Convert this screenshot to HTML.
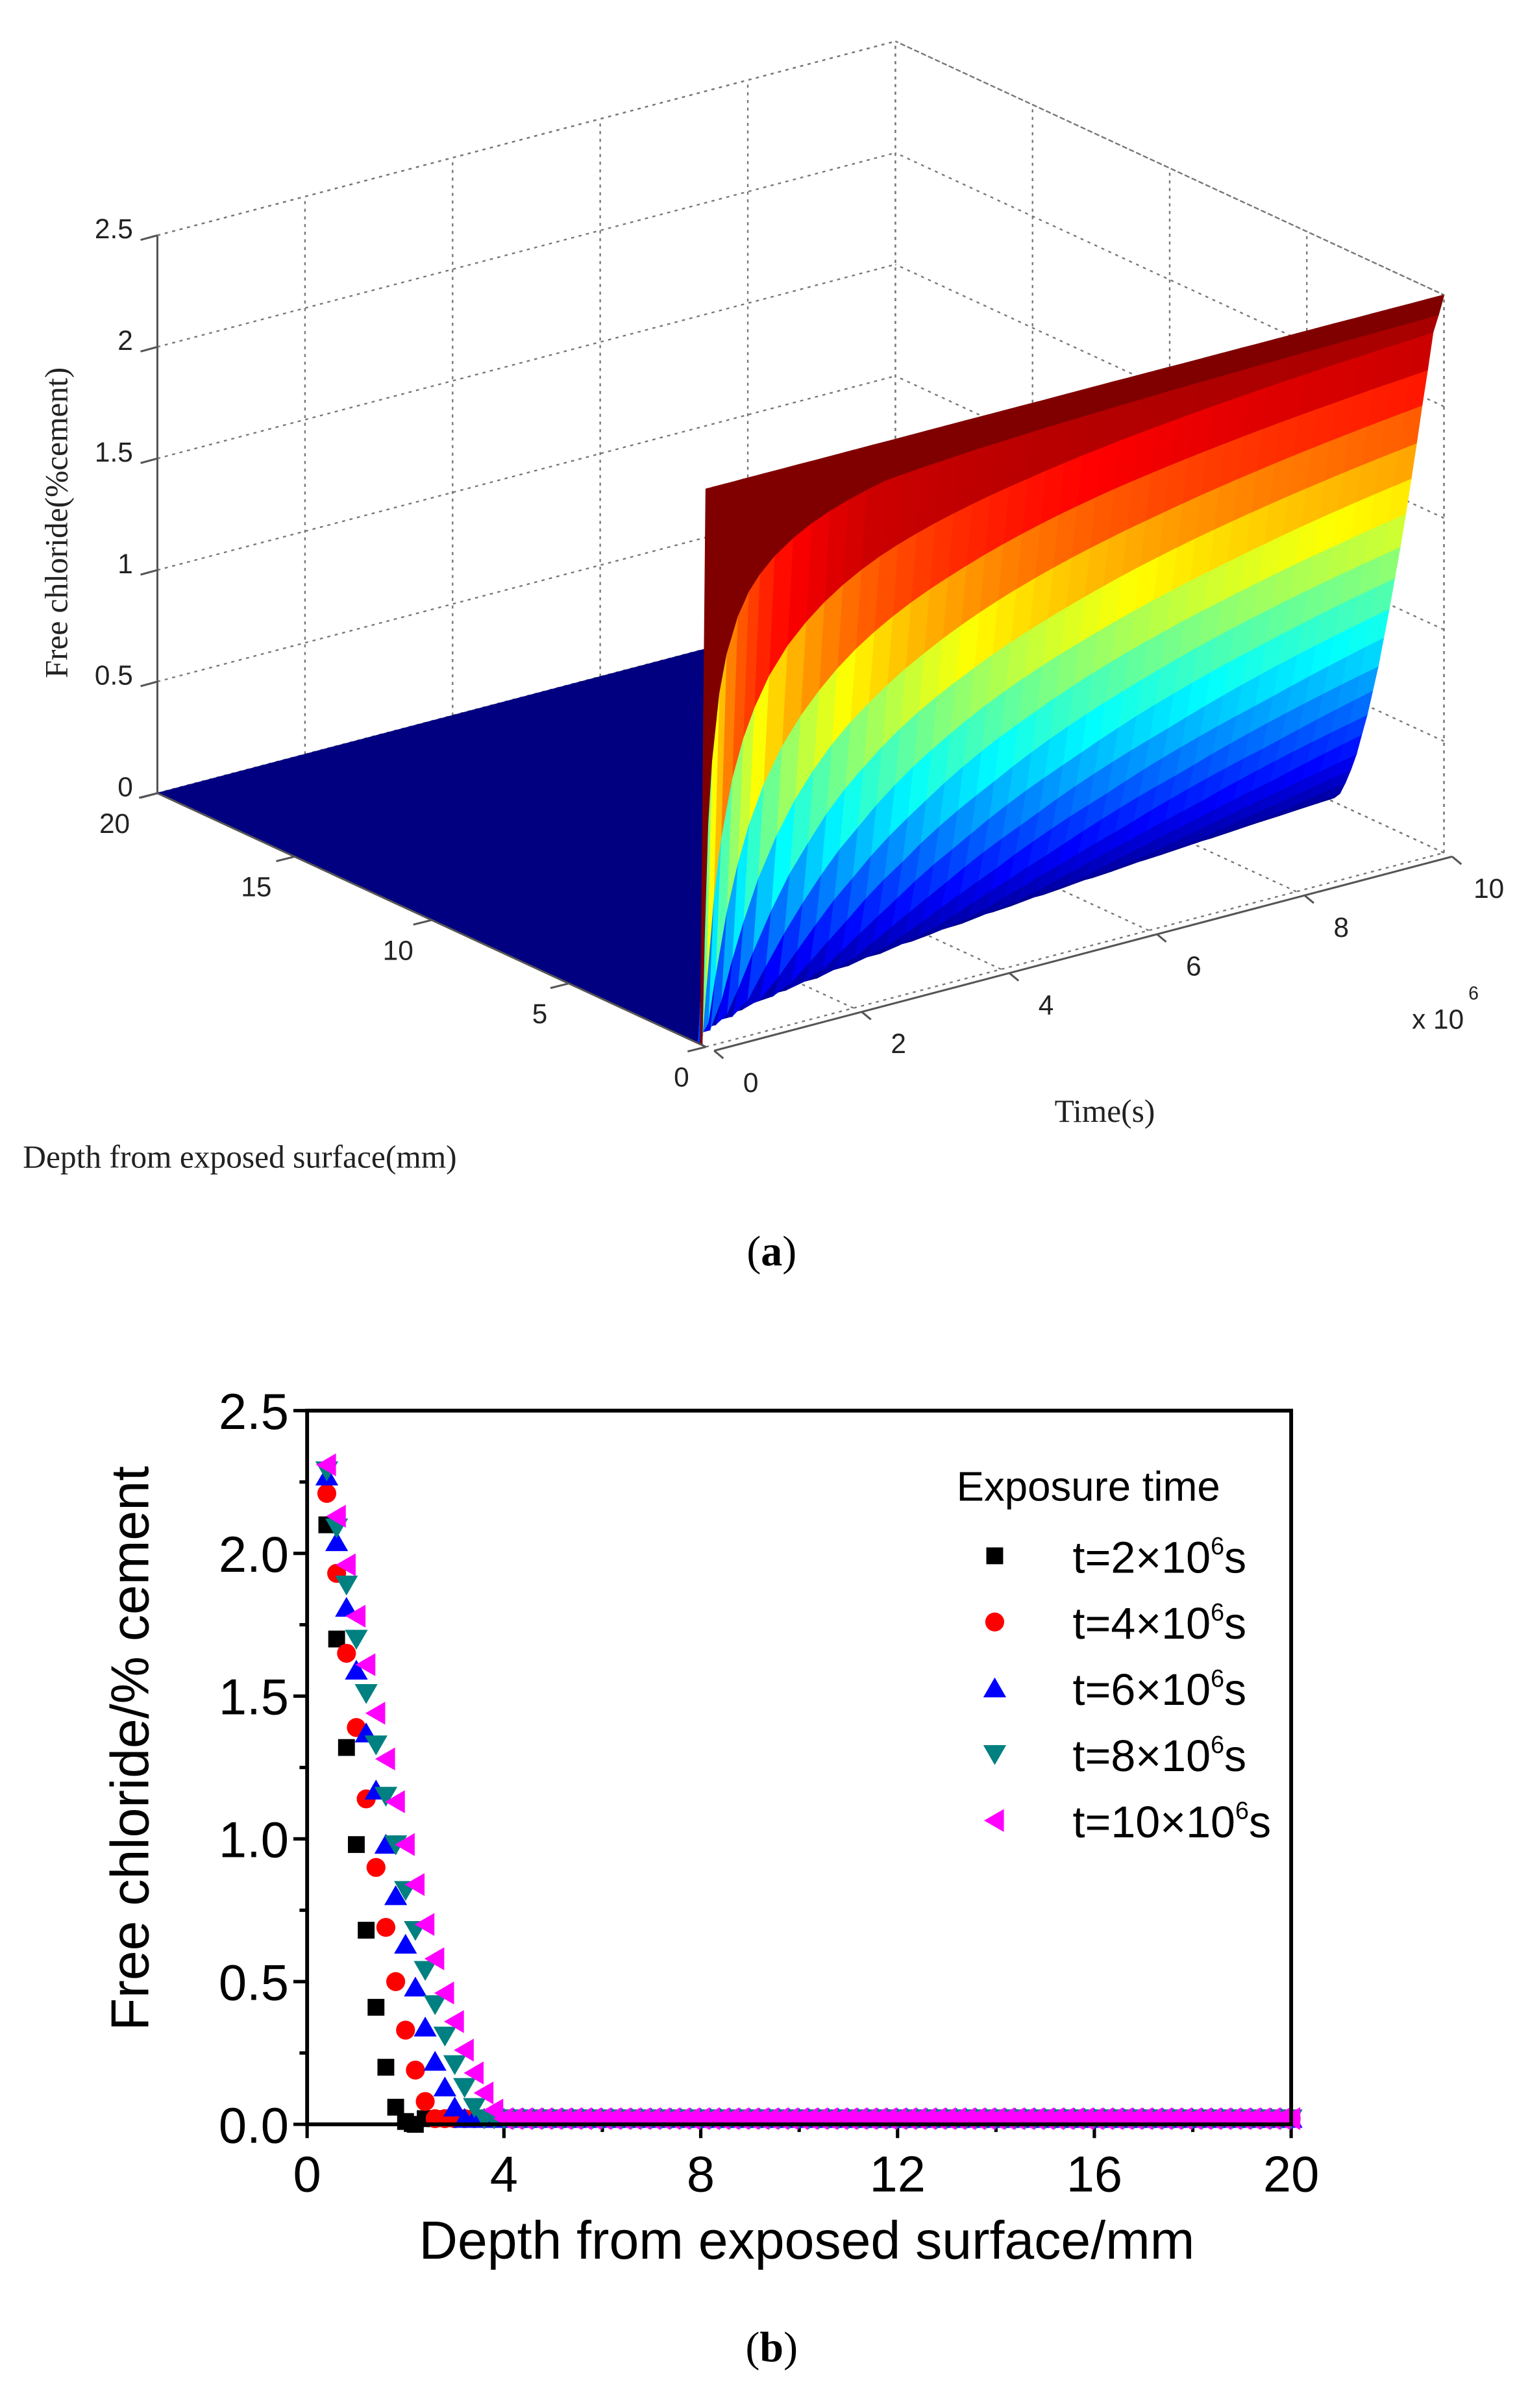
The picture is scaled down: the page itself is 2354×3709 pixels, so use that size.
<!DOCTYPE html>
<html><head><meta charset="utf-8"><style>
html,body{margin:0;padding:0;background:#fff;}
svg{display:block;}
</style></head><body>
<svg id="fig" xmlns="http://www.w3.org/2000/svg" width="2354" height="3709" viewBox="0 0 1000 1575.6" preserveAspectRatio="none">
<rect x="0" y="0" width="1000" height="1576" fill="#fff"/>
<g id="pa"></g>
<g id="pb"></g>
<text x="505" y="828" text-anchor="middle" font-family="Liberation Serif, serif" font-size="28">(<tspan font-weight="bold">a</tspan>)</text>
<text x="505" y="1545" text-anchor="middle" font-family="Liberation Serif, serif" font-size="28">(<tspan font-weight="bold">b</tspan>)</text>
</svg>
<script>
// ---------- Panel A data ----------
const profileDepth = [0,0.2,0.4,0.6,0.8,1.0,1.2,1.4,1.6,1.8,2.0,2.2,2.4,2.6,2.8,3.0,3.2,3.4,3.6,3.8,4.0,4.2];
const profileValue = [2.5,2.40,2.31,2.13,1.96,1.78,1.61,1.44,1.28,1.13,0.98,0.84,0.70,0.58,0.46,0.36,0.26,0.18,0.11,0.05,0.02,0];
const surfTimes = [0,0.02,0.05,0.1,0.15,0.25,0.35,0.5,0.65,0.8,1,1.25,1.5,1.75,2,2.25,2.5,2.75,3,3.25,3.5,3.75,4,4.25,4.5,4.75,5,5.25,5.5,5.75,6,6.25,6.5,6.75,7,7.25,7.5,7.75,8,8.25,8.5,8.75,9,9.25,9.5,9.75,10];
const zTicks = [0,0.5,1,1.5,2,2.5];
const zTickLabels = ["0","0.5","1","1.5","2","2.5"];
const depthTicks = [0,5,10,15,20];
const timeTicks = [0,2,4,6,8,10];

// ---------- Panel B data ----------
const seriesNames = ["t=2","t=4","t=6","t=8","t=10"];
const leadDepth = [0.4,0.6,0.8,1.0,1.2,1.4,1.6,1.8,2.0,2.2,2.4,2.6,2.8,3.0,3.2,3.4,3.6,3.8,4.0];
const s2  = [2.10,1.70,1.32,0.98,0.68,0.41,0.20,0.06,0.01,0.0];
const s4  = [2.21,1.93,1.65,1.39,1.14,0.90,0.69,0.50,0.33,0.19,0.08,0.02];
const s6  = [2.27,2.04,1.81,1.59,1.37,1.17,0.98,0.80,0.63,0.48,0.34,0.22,0.13,0.06,0.02];
const s8  = [2.29,2.09,1.89,1.70,1.51,1.33,1.15,0.98,0.82,0.68,0.54,0.42,0.31,0.21,0.13,0.06,0.02];
const s10 = [2.31,2.13,1.96,1.78,1.61,1.44,1.28,1.13,0.98,0.84,0.70,0.58,0.46,0.36,0.26,0.18,0.11,0.05,0.02];
const tailValue = 0.02;
const xTicksB = [0,4,8,12,16,20];
const yTicksB = [0,0.5,1.0,1.5,2.0,2.5];
const yTickLabelsB = ["0.0","0.5","1.0","1.5","2.0","2.5"];

const NS = "http://www.w3.org/2000/svg";
function mk(tag, attrs, parent){const e=document.createElementNS(NS,tag);for(const k in attrs)e.setAttribute(k,attrs[k]);parent.appendChild(e);return e;}

// ===== Panel A =====
const pa = document.getElementById('pa');
function P(d,t,z){return [462-17.95*d+48.3*t, 685-8.3*d-12.7*t-146*z];}
function jet(v){v=Math.max(0,Math.min(1,v));const c=x=>Math.round(255*Math.max(0,Math.min(1,x)));
  return `rgb(${c(1.5-Math.abs(4*v-3))},${c(1.5-Math.abs(4*v-2))},${c(1.5-Math.abs(4*v-1))})`;}
function prof(d,t){
  if(t<=0) return d<=0?2.5:0;
  const s=d/Math.sqrt(t/10);
  if(s>=profileDepth[profileDepth.length-1]) return 0;
  for(let i=0;i<profileDepth.length-1;i++){
    if(s<=profileDepth[i+1]){const f=(s-profileDepth[i])/(profileDepth[i+1]-profileDepth[i]);return profileValue[i]+f*(profileValue[i+1]-profileValue[i]);}
  }
  return 0;
}
const grid = mk('g',{stroke:'#777','stroke-width':1,'stroke-dasharray':'2,3',fill:'none'},pa);


function line(g,a,b){return mk('line',{x1:a[0],y1:a[1],x2:b[0],y2:b[1]},g);}
timeTicks.forEach(t=>line(grid,P(20,t,0),P(20,t,2.5)));
zTicks.forEach(z=>line(grid,P(20,0,z),P(20,10,z)));
depthTicks.forEach(d=>line(grid,P(d,10,0),P(d,10,2.5)));
zTicks.forEach(z=>line(grid,P(0,10,z),P(20,10,z)));
timeTicks.forEach(t=>line(grid,P(0,t,0),P(20,t,0)));
depthTicks.forEach(d=>line(grid,P(d,0,0),P(d,10,0)));

const surf = mk('g',{},pa);


const dMax = profileDepth[profileDepth.length-1];
function poly(pts,fill){return mk('polygon',{points:pts.map(q=>q[0].toFixed(1)+','+q[1].toFixed(1)).join(' '),fill:fill,stroke:fill,'stroke-width':0.6},surf);}
const fl = poly([P(dMax,0,0),P(20,0,0),P(20,10,0),P(dMax,10,0)], jet(0));


const nd = Math.round(dMax/0.2);
for(let i=nd-1;i>=0;i--){
  const d0=i*0.2,d1=(i+1)*0.2;
  for(let j=surfTimes.length-2;j>=0;j--){
    const t0=surfTimes[j],t1=surfTimes[j+1];
    const z00=prof(d0,t0),z01=prof(d0,t1),z11=prof(d1,t1),z10=prof(d1,t0);
    const zc=Math.max(z01,z11);
    const q=poly([P(d0,t0,z00),P(d0,t1,z01),P(d1,t1,z11),P(d1,t0,z10)], jet(zc/2.5));
    
    
  }
}
const edges = mk('g',{stroke:'#777','stroke-width':1,'stroke-dasharray':'2,3'},pa);
line(edges,P(20,0,2.5),P(20,10,2.5));line(edges,P(20,10,2.5),P(0,10,2.5));line(edges,P(0,10,0),P(0,10,2.5));
const ax = mk('g',{stroke:'#555','stroke-width':1.3,fill:'none'},pa);


line(ax,P(20,0,0),P(20,0,2.5));
const txtA = mk('g',{'font-family':'Liberation Sans, sans-serif','font-size':18,fill:'#222'},pa);
zTicks.forEach((z,k)=>{const p=P(20,0,z);line(ax,p,[p[0]-11,p[1]+3]);
  const t=mk('text',{x:p[0]-16,y:p[1]+2,'text-anchor':'end'},txtA);t.textContent=zTickLabels[k];
  });
line(ax,P(0,0,0),P(20,0,0));
depthTicks.forEach(d=>{const p=P(d,0,0);line(ax,p,[p[0]-12,p[1]+3]);
  const t=mk('text',{x:p[0]-16-0.6*d,y:p[1]+26,'text-anchor':'middle'},txtA);t.textContent=String(d);
  });
line(ax,P(-0.3,0,0),P(-0.3,10,0));
timeTicks.forEach(tt=>{const p=P(-0.3,tt,0);line(ax,p,[p[0]+6,p[1]+5]);
  const t=mk('text',{x:p[0]+24,y:p[1]+27,'text-anchor':'middle'},txtA);t.textContent=String(tt);
  });
let t1=mk('text',{x:924,y:673},txtA);t1.textContent='x 10';

let t2=mk('text',{x:961,y:654,'font-size':12},txtA);t2.textContent='6';

const serif = mk('g',{'font-family':'Liberation Serif, serif','font-size':21,fill:'#222'},pa);
let yt=mk('text',{x:0,y:0,transform:'translate(44,342) rotate(-90)','text-anchor':'middle'},serif);yt.textContent='Free chloride(%cement)';

let xt=mk('text',{x:15,y:764},serif);xt.textContent='Depth from exposed surface(mm)';

let tt=mk('text',{x:723,y:734,'text-anchor':'middle'},serif);tt.textContent='Time(s)';


// ===== Panel B =====
const pb = document.getElementById('pb');
const X0=201,X1=845,Y0=1390,Y1=923;
const xs=v=>X0+(X1-X0)*v/20, ys=v=>Y0-(Y0-Y1)*v/2.5;
const fontB={'font-family':'Liberation Sans, sans-serif',fill:'#000'};
const tk = mk('g',{stroke:'#000','stroke-width':2.2},pb);


for(let v=0;v<=20.001;v+=2){const x=xs(v);line(tk,[x,Y0],[x,Y0+(Math.round(v)%4===0?9:5)]);}
for(let v=0;v<=2.5001;v+=0.25){const y=ys(v);line(tk,[X0,y],[X0-(Math.round(v*4)%2===0?9:5),y]);}
xTicksB.forEach(v=>{const t=mk('text',Object.assign({x:xs(v),y:1434,'text-anchor':'middle','font-size':33},fontB),pb);t.textContent=String(v);
  });
yTicksB.forEach((v,k)=>{const t=mk('text',Object.assign({x:189,y:ys(v)+12,'text-anchor':'end','font-size':33},fontB),pb);t.textContent=yTickLabelsB[k];
  });
let xtb=mk('text',Object.assign({x:528,y:1478,'text-anchor':'middle','font-size':35},fontB),pb);xtb.textContent='Depth from exposed surface/mm';

let ytb=mk('text',Object.assign({x:0,y:0,transform:'translate(97,1144) rotate(-90)','text-anchor':'middle','font-size':35},fontB),pb);ytb.textContent='Free chloride/% cement';


const colors=['#000000','#ff0000','#0000ff','#008080','#ff00ff'];
const seriesData=[s2,s4,s6,s8,s10];
function marker(k,x,y,g){
  const c=colors[k];let e;
  if(k===0) e=mk('rect',{x:x-5.5,y:y-5.5,width:11,height:11,fill:c},g);
  else if(k===1) e=mk('circle',{cx:x,cy:y,r:6.2,fill:c},g);
  else if(k===2) e=mk('polygon',{points:`${x},${y-7} ${x-7.5},${y+6} ${x+7.5},${y+6}`,fill:c},g);
  else if(k===3) e=mk('polygon',{points:`${x},${y+7} ${x-7.5},${y-6} ${x+7.5},${y-6}`,fill:c},g);
  else e=mk('polygon',{points:`${x-7},${y} ${x+6},${y-7.5} ${x+6},${y+7.5}`,fill:c},g);
  return e;
}
seriesData.forEach((arr,k)=>{
  const g=mk('g',{},pb);
  
  
  let last=0;
  arr.forEach((v,i)=>{const m=marker(k,xs(leadDepth[i]),ys(v),g);
    
    last=leadDepth[i];});
  for(let d=last+0.2;d<=20.001;d+=0.2){const m=marker(k,xs(d),ys(tailValue),g);
    
    }
});
const fr=mk('rect',{x:X0,y:Y1,width:X1-X0,height:Y0-Y1,fill:'none',stroke:'#000','stroke-width':2.5},pb);


const lg=mk('g',{},pb);


let lt=mk('text',Object.assign({x:626,y:982,'font-size':27},fontB),lg);lt.textContent='Exposure time';

const legNums=['2','4','6','8','10'];
legNums.forEach((n,k)=>{
  const y=1018+k*43.3;
  const m=marker(k,651,y,lg);
  
  
  const t=mk('text',Object.assign({x:702,y:y+11,'font-size':29},fontB),lg);
  
  
  t.appendChild(document.createTextNode('t='+n+'\u00d710'));
  const s=mk('tspan',{dy:-12,'font-size':16},t);s.textContent='6';
  const s2t=mk('tspan',{dy:12},t);s2t.textContent='s';
});
</script>
</body></html>
